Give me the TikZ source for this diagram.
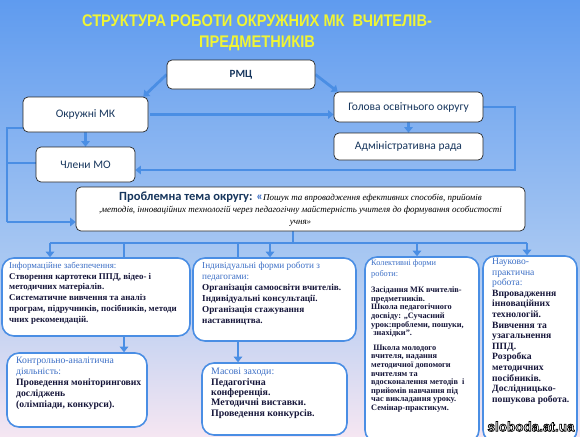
\documentclass[tikz,border=0pt]{standalone}
\usepackage{fontspec}
\setmainfont{Liberation Serif}
\newfontfamily\calfont{Carlito}
\newfontfamily\arialfont{Liberation Sans}
\usepackage{graphicx}
\usetikzlibrary{arrows.meta,calc}
\definecolor{bgtop}{HTML}{5F9BEF}
\definecolor{bgmid}{HTML}{A9C8F2}
\definecolor{bgbot}{HTML}{F5E6F2}
\definecolor{conncol}{HTML}{4A8EE4}
\definecolor{navy}{HTML}{17365D}
\definecolor{headblue}{HTML}{3C6FC6}
\definecolor{bodydark}{HTML}{16163A}
\definecolor{titleyellow}{HTML}{F0F534}
\pgfdeclareverticalshading{bgshade}{100bp}{color(0bp)=(bgbot); color(25bp)=(bgbot); color(45bp)=(bgmid); color(75bp)=(bgtop); color(100bp)=(bgtop)}
\pgfdeclarelayer{bglayer}
\pgfdeclarelayer{connlayer}
\pgfsetlayers{bglayer,connlayer,main}
\tikzset{
  topbox/.style={draw=black!85, line width=0.7pt, fill=white, rounded corners=5pt, inner sep=0pt,
    font=\calfont\fontsize{11.5}{13}\selectfont, text=navy},
  btmbox/.style={draw=conncol, line width=1.6pt, fill=white, rounded corners=12pt, inner sep=0pt},
  conn/.style={draw=conncol, line width=2.8pt, -{Triangle[width=8.5pt,length=5.5pt]}},
  connline/.style={draw=conncol, line width=2.8pt},
  btxt/.style={anchor=north west, align=left, inner sep=0pt, text=bodydark}
}
\newcommand\hdc[1]{{\mdseries\color{headblue}#1}}
\begin{document}
\begin{tikzpicture}[x=1pt,y=-1pt]
\useasboundingbox (0,0) rectangle (580,436);
\begin{pgfonlayer}{bglayer}
\shade[shading=bgshade] (0,0) rectangle (580,436);
\end{pgfonlayer}

% title
\node[align=center, inner sep=0pt, text=titleyellow, font=\arialfont\bfseries\fontsize{16.8}{21.5}\selectfont] (title) at (257,33)
  {\scalebox{0.87}[1]{СТРУКТУРА РОБОТИ ОКРУЖНИХ МК\ \ ВЧИТЕЛІВ-}\\\scalebox{0.87}[1]{ПРЕДМЕТНИКІВ}};

% top boxes
\node[topbox, minimum width=148pt, minimum height=29pt, font=\calfont\bfseries\fontsize{11}{13}\selectfont] (rmc) at (241,74.5) {РМЦ};
\node[topbox, minimum width=125pt, minimum height=35pt] (okr) at (85.5,114.5) {Окружні МК};
\node[topbox, minimum width=149pt, minimum height=30pt] (hol) at (408.5,107) {Голова освітнього округу};
\node[topbox, minimum width=149pt, minimum height=27pt] (adm) at (408.5,146.5) {Адміністративна рада};
\node[topbox, minimum width=99pt, minimum height=35pt] (chl) at (85.5,164.5) {Члени МО};
\node[topbox, minimum width=449pt, minimum height=44pt, align=center, text=black,
  font=\fontsize{9}{12}\selectfont\itshape] (prob) at (300.5,209)
  {{\calfont\upshape\bfseries\fontsize{12.5}{12}\selectfont\color{navy}Проблемна тема округу: {\color{headblue}«}}Пошук та впровадження ефективних способів, прийомів\\
   ,методів, інноваційних технологій через педагогічну майстерність учителя до формування особистості\\
   учня»};

% bottom boxes
\node[btmbox, minimum width=188pt, minimum height=78pt] (info) at (96,297) {};
\node[btmbox, minimum width=163pt, minimum height=83pt] (ind) at (274.5,299.5) {};
\node[btmbox, minimum width=114pt, minimum height=185pt] (kol) at (422,349.5) {};
\node[btmbox, minimum width=94pt, minimum height=186pt] (nauk) at (530,349) {};
\node[btmbox, minimum width=140pt, minimum height=74pt] (kontr) at (77,390) {};
\node[btmbox, minimum width=145pt, minimum height=72pt] (mas) at (274.5,399) {};

% bottom texts
\node[btxt, font=\fontsize{8.9}{10.7}\selectfont\bfseries] (infot) at (9,262)
 {\hdc{Інформаційне забезпечення:}\\
  Створення картотеки ППД, відео- і\\
  методичних матеріалів.\\
  Систематичне вивчення та аналіз\\
  програм, підручників, посібників, методи\\
  чних рекомендацій.};
\node[btxt, font=\fontsize{9.2}{11}\selectfont\bfseries] (indt) at (202,262)
 {\hdc{Індивідуальні форми роботи з}\\
  \hdc{педагогами:}\\
  Організація самоосвіти вчителів.\\
  Індивідуальні консультації.\\
  Організація стажування\\
  наставництва.};
\node[btxt, font=\fontsize{8.3}{8.6}\selectfont\bfseries] (kolt) at (371,260)
 {\hdc{Колективні форми}\\[1.5pt]
  \hdc{роботи:}\\[8pt]
  Засідання МК вчителів-\\
  предметників.\\
  Школа педагогічного\\
  досвіду: „Сучасний\\
  урок:проблеми, пошуки,\\
  \ знахідки”.\\[6pt]
  \ Школа молодого\\
  вчителя, надання\\
  методичної допомоги\\
  вчителям та\\
  вдосконалення методів\ \ і\\
  прийомів навчання під\\
  час викладання уроку.\\
  Семінар-практикум.};
\node[btxt, font=\fontsize{9.6}{10.6}\selectfont\bfseries] (naukt) at (492,258)
 {\hdc{Науково-}\\
  \hdc{практична}\\
  \hdc{робота:}\\
  Впровадження\\
  інноваційних\\
  технологій.\\
  Вивчення та\\
  узагальнення\\
  ППД.\\
  Розробка\\
  методичних\\
  посібників.\\
  Дослідницько-\\
  пошукова робота.};
\node[btxt, font=\fontsize{9.7}{11}\selectfont\bfseries] (kontrt) at (16,357)
 {\hdc{Контрольно-аналітична}\\
  \hdc{діяльність:}\\
  Проведення моніторингових\\
  досліджень\\
  (олімпіади, конкурси).};
\node[btxt, font=\fontsize{9.9}{10.4}\selectfont\bfseries] (mast) at (211,368)
 {\hdc{Масові заходи:}\\
  Педагогічна\\
  конференція.\\
  Методичні виставки.\\
  Проведення конкурсів.};

% connectors
\begin{pgfonlayer}{connlayer}
\draw[conn] (rmc.west) -- ([xshift=-5pt]okr.north east);
\draw[conn] (rmc.east) -- ([xshift=4pt]hol.north west);
\draw[conn] ([xshift=2pt]okr.east) -- (okr.east -| hol.west);
\draw[conn] (okr.south) -- (chl.north);
\draw[conn] (hol.south) -- (adm.north);
\coordinate (loopR) at (515,170);
\draw[conn] (hol.east) -| (loopR) -- (loopR -| chl.east);
\coordinate (lTop) at (7,128);
\coordinate (lMid) at (7,163);
\coordinate (lBot) at (7,222);
\draw[connline] (okr.west |- lTop) -- (lTop) -- (lBot);
\draw[connline] (lMid) -- (lMid -| chl.west);
\draw[conn] (lBot) -- (lBot -| prob.west);
\coordinate (stemT) at (293,231);
\coordinate (stemB) at (293,243);
\coordinate (busL) at (50,243);
\coordinate (busR) at (527,243);
\draw[connline] (stemT) -- (stemB);
\draw[connline] (busL) -- (busR);
\draw[conn] (busL) -- (busL |- info.north);
\coordinate (b2) at (270,243);
\coordinate (b3) at (417,243);
\coordinate (b4) at (124,243);
\coordinate (b5) at (238,243);
\draw[conn] (b2) -- (b2 |- ind.north);
\draw[conn] (b3) -- (b3 |- kol.north);
\draw[conn] (busR) -- (busR |- nauk.north);
\draw[conn] (b4) -- (b4 |- kontr.north);
\draw[conn] (b5) -- (b5 |- mas.north);
\end{pgfonlayer}

% watermark: white text with a black outline (fill + stroke render mode)
\node[inner sep=0pt, text=white, font=\arialfont\bfseries\fontsize{13.5}{14}\selectfont] (wm) at (531,426.5)
  {\special{pdf:literal direct 2 Tr 0.7 w 0 0 0 RG}sloboda.at.ua\special{pdf:literal direct 0 Tr 1 1 1 RG}};
\end{tikzpicture}
\end{document}
